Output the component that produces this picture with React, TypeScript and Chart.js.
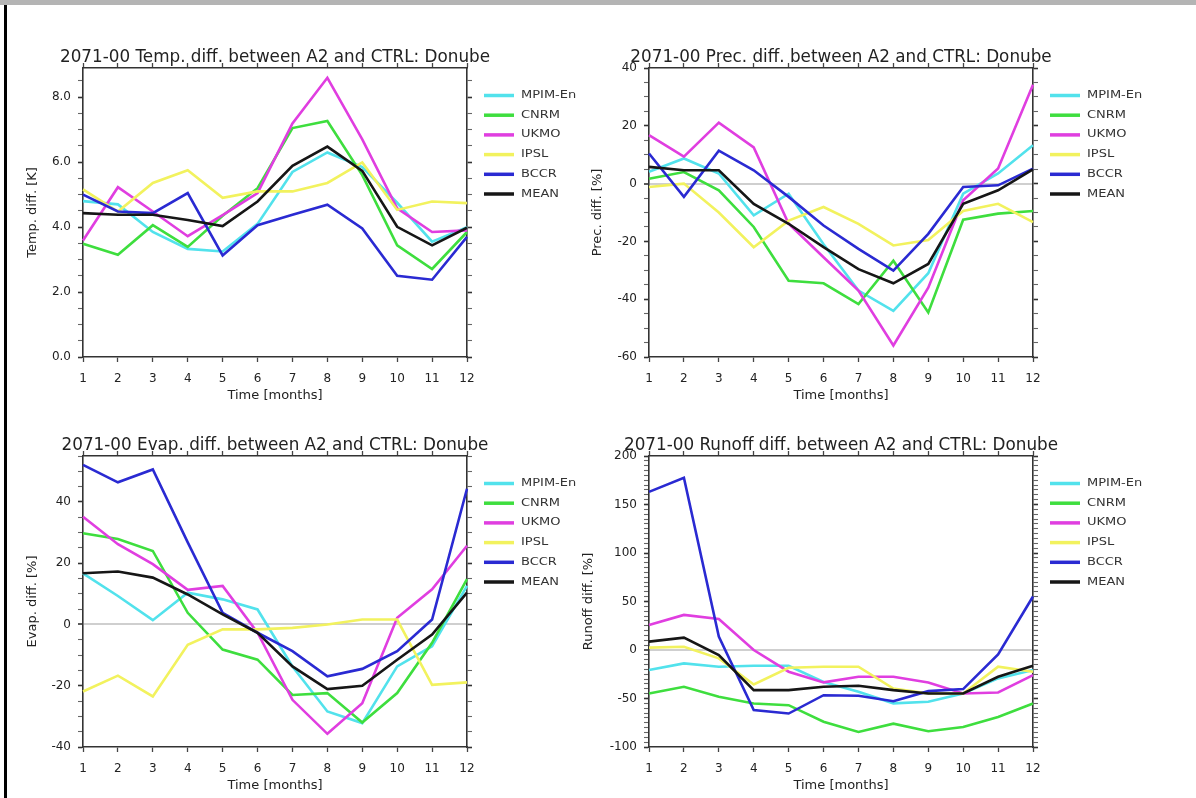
import { useEffect, useRef } from "react";
import { Chart, registerables } from "chart.js";

Chart.register(...registerables);

// ---------------- DATA ----------------
const months = ["1", "2", "3", "4", "5", "6", "7", "8", "9", "10", "11", "12"];
const seriesNames = ["MPIM-En", "CNRM", "UKMO", "IPSL", "BCCR", "MEAN"];
const seriesColors = ["#52e2ec", "#3ede3e", "#e03ee0", "#f2f25e", "#2a2ad2", "#161616"];

// Temperature difference [K]
const tempMpim = [4.8, 4.7, 3.85, 3.33, 3.25, 4.1, 5.7, 6.3, 5.85, 4.75, 3.55, 4.0];
const tempCnrm = [3.49, 3.15, 4.06, 3.39, 4.35, 5.2, 7.05, 7.27, 5.6, 3.44, 2.71, 3.85];
const tempUkmo = [3.59, 5.23, 4.48, 3.72, 4.37, 5.05, 7.19, 8.6, 6.7, 4.58, 3.85, 3.9];
const tempIpsl = [5.16, 4.48, 5.36, 5.75, 4.9, 5.1, 5.1, 5.36, 5.99, 4.53, 4.79, 4.74];
const tempBccr = [5.0, 4.48, 4.43, 5.05, 3.13, 4.06, 4.38, 4.69, 3.96, 2.5, 2.38, 3.7];
const tempMean = [4.43, 4.38, 4.38, 4.22, 4.03, 4.79, 5.89, 6.48, 5.73, 4.01, 3.44, 3.98];
const tempMajorTicks = [0, 2, 4, 6, 8];

// Precipitation difference [%]
const precMpim = [4.1, 8.7, 3.5, -11, -3.5, -21, -37, -44, -31, -3.5, 3.5, 13.3];
const precCnrm = [1.7, 4, -2.3, -15, -33.6, -34.5, -41.7, -26.7, -44.6, -12.5, -10.4, -9.5];
const precUkmo = [16.8, 9.3, 21.1, 12.5, -13.9, -25.5, -37, -56, -36, -5.8, 5.2, 34.2];
const precIpsl = [-1.2, 0, -10, -22, -12.8, -8.1, -13.9, -21.4, -19.5, -9.5, -7, -13.3];
const precBccr = [10.4, -4.6, 11.4, 4.6, -4.6, -14.5, -22.6, -30.1, -17.4, -1.2, -0.6, 5.2];
const precMean = [5.8, 4.6, 4.6, -7, -13.9, -22, -29.6, -34.5, -27.8, -7, -2.3, 4.9];
const precMajorTicks = [-60, -40, -20, 0, 20, 40];

// Evaporation difference [%]
const evapMpim = [16.7, 9.3, 1.4, 10.4, 8.2, 4.9, -13.7, -28.4, -32.2, -13.7, -7.1, 12.6];
const evapCnrm = [29.8, 27.9, 24, 3.8, -8.2, -11.5, -23, -22.4, -32, -22.4, -6, 14.8];
const evapUkmo = [35.2, 26.2, 19.7, 11.3, 12.6, -2.7, -24.6, -35.7, -25.7, 2.2, 11.5, 25.7];
const evapIpsl = [-21.9, -16.7, -23.5, -6.6, -1.6, -1.6, -1.1, 0, 1.6, 1.6, -19.7, -18.9];
const evapBccr = [52.1, 46.4, 50.6, 26.8, 3.8, -2.7, -8.7, -16.9, -14.5, -8.7, 1.6, 44.3];
const evapMean = [16.7, 17.3, 15.3, 9.8, 3.3, -2.7, -13.7, -21.1, -20, -11.5, -3.3, 10.4];
const evapMajorTicks = [-40, -20, 0, 20, 40];

// Runoff difference [%]
const runoffMpim = [-20.7, -13.8, -17.2, -16.2, -16.2, -33, -43, -55, -53.4, -44.8, -29.3, -20.7];
const runoffCnrm = [-44.8, -37.9, -48.3, -55.2, -56.9, -74, -84.5, -75.9, -83.8, -79.3, -69, -55.2];
const runoffUkmo = [25.9, 36.2, 32, 0, -22.4, -33.4, -27.6, -27.6, -33.4, -44.8, -43.8, -25.9];
const runoffIpsl = [2.4, 3.4, -8.6, -35.5, -18.3, -17.2, -17.2, -39.7, -44.8, -44.8, -17.2, -22.4];
const runoffBccr = [163, 177.6, 13.8, -62, -65.5, -46.6, -47.2, -52.8, -42.4, -40.3, -4.5, 55.2];
const runoffMean = [8.6, 12.8, -5.2, -41.4, -41.4, -37.9, -36.9, -41.4, -44.8, -44.8, -27.6, -16.2];
const runoffMajorTicks = [-100, -50, 0, 50, 100, 150, 200];

// ---------------- LAYOUT / STYLE ----------------
const FONT = '"DejaVu Sans", "Liberation Sans", sans-serif';
const TEXT = "#222";
const FRAME = "#333";
const PAD_L = 120;
const PAD_R = 120;
const TOP_H = 24;
const BOT_H = 46;
const PLOT_W = 384;
const TITLE_SIZE = 16.8;

type PanelCfg = {
  title: string;
  yTitle: string;
  series: number[][];
  min: number;
  max: number;
  minorStep: number;
  majorTicks: number[];
  decimals: number;
  zeroLine: boolean;
  left: number;
  top: number;
  height: number;
  yTitleGap: number;
};

const panels: PanelCfg[] = [
  {
    title: "2071-00 Temp. diff. between A2 and CTRL: Donube",
    yTitle: "Temp. diff. [K]",
    series: [tempMpim, tempCnrm, tempUkmo, tempIpsl, tempBccr, tempMean],
    min: 0, max: 8.9, minorStep: 0.5, majorTicks: tempMajorTicks, decimals: 1,
    zeroLine: false, left: 83, top: 68, height: 289, yTitleGap: 50,
  },
  {
    title: "2071-00 Prec. diff. between A2 and CTRL: Donube",
    yTitle: "Prec. diff. [%]",
    series: [precMpim, precCnrm, precUkmo, precIpsl, precBccr, precMean],
    min: -60, max: 40, minorStep: 5, majorTicks: precMajorTicks, decimals: 0,
    zeroLine: true, left: 649, top: 68, height: 289, yTitleGap: 51,
  },
  {
    title: "2071-00 Evap. diff. between A2 and CTRL: Donube",
    yTitle: "Evap. diff. [%]",
    series: [evapMpim, evapCnrm, evapUkmo, evapIpsl, evapBccr, evapMean],
    min: -40, max: 55, minorStep: 5, majorTicks: evapMajorTicks, decimals: 0,
    zeroLine: true, left: 83, top: 456, height: 291, yTitleGap: 50,
  },
  {
    title: "2071-00 Runoff diff. between A2 and CTRL: Donube",
    yTitle: "Runoff diff. [%]",
    series: [runoffMpim, runoffCnrm, runoffUkmo, runoffIpsl, runoffBccr, runoffMean],
    min: -100, max: 200, minorStep: 5, majorTicks: runoffMajorTicks, decimals: 0,
    zeroLine: true, left: 649, top: 456, height: 291, yTitleGap: 60,
  },
];

const sideLegend = {
  id: "sideLegend",
  afterDraw(chart: any) {
    const { ctx, chartArea } = chart;
    ctx.save();
    chart.data.datasets.forEach((ds: any, i: number) => {
      const y = chartArea.top + 27.5 + i * 19.7;
      ctx.strokeStyle = ds.borderColor;
      ctx.lineWidth = 3.5;
      ctx.lineCap = "butt";
      ctx.beginPath();
      ctx.moveTo(chartArea.right + 17, y);
      ctx.lineTo(chartArea.right + 47, y);
      ctx.stroke();
      ctx.save();
      ctx.translate(chartArea.right + 54, y);
      ctx.scale(1.3, 1);
      ctx.fillStyle = "#333";
      ctx.font = `10px ${FONT}`;
      ctx.textBaseline = "middle";
      ctx.textAlign = "left";
      ctx.fillText(ds.label, 0, 0);
      ctx.restore();
    });
    ctx.restore();
  },
};

function isMajor(v: number, majors: number[]) {
  return majors.some((m) => Math.abs(m - v) < 1e-6);
}

function PanelChart({ cfg }: { cfg: PanelCfg }) {
  const ref = useRef<HTMLCanvasElement>(null);
  const W = PAD_L + PLOT_W + PAD_R;
  const H = TOP_H + cfg.height + BOT_H;

  useEffect(() => {
    const canvas = ref.current;
    if (!canvas) return;
    const tickFont = { family: FONT, size: 12 };
    const axisTitleFont = { family: FONT, size: 13, lineHeight: 1.2 };
    const titleLH = TITLE_SIZE * 1.2;
    const chart = new Chart(canvas, {
      type: "line",
      data: {
        labels: months,
        datasets: cfg.series.map((values, i) => ({
          label: seriesNames[i],
          data: values,
          borderColor: seriesColors[i],
          backgroundColor: seriesColors[i],
          borderWidth: 2.6,
          pointRadius: 0,
          pointHoverRadius: 0,
          tension: 0,
          fill: false,
          order: seriesNames.length - i,
          xAxisID: "x",
          yAxisID: "y",
        })),
      },
      options: {
        responsive: false,
        animation: false,
        devicePixelRatio: 1,
        events: [],
        layout: { padding: 0 },
        plugins: {
          legend: { display: false },
          tooltip: { enabled: false },
          title: {
            display: true,
            text: cfg.title,
            color: TEXT,
            font: { family: FONT, size: TITLE_SIZE, lineHeight: 1.2, weight: "normal" },
            padding: { top: TOP_H - titleLH - 0.1, bottom: 0.1 },
          },
        },
        scales: {
          x: {
            type: "category",
            position: "bottom",
            offset: false,
            grid: { display: true, drawOnChartArea: false, drawTicks: true, tickLength: 5, tickColor: "#444", tickWidth: 1.3, offset: false },
            border: { display: true, color: FRAME, width: 1.6 },
            ticks: { color: TEXT, font: tickFont, padding: 9.8, autoSkip: false, maxRotation: 0 },
            title: { display: true, text: "Time [months]", color: TEXT, font: axisTitleFont, padding: { top: 0, bottom: 0 } },
            afterFit: (s: any) => { s.height = BOT_H; },
          },
          x2: {
            type: "category",
            position: "top",
            offset: false,
            grid: { display: true, drawOnChartArea: false, drawTicks: true, tickLength: 5, tickColor: "#444", tickWidth: 1.3, offset: false },
            border: { display: true, color: FRAME, width: 1.6 },
            ticks: { display: false, autoSkip: false },
            afterFit: (s: any) => { s.height = 0; },
          },
          y: {
            type: "linear",
            position: "left",
            min: cfg.min,
            max: cfg.max,
            grid: {
              display: true,
              drawOnChartArea: true,
              drawTicks: true,
              tickLength: 5,
              color: (c: any) => (cfg.zeroLine && c.tick && Math.abs(c.tick.value) < 1e-9 ? "#cfcfcf" : "rgba(0,0,0,0)"),
              lineWidth: (c: any) => (cfg.zeroLine && c.tick && Math.abs(c.tick.value) < 1e-9 ? 2 : 1),
              tickColor: (c: any) => (c.tick && isMajor(c.tick.value, cfg.majorTicks) ? "#333" : "#666"),
              tickWidth: (c: any) => (c.tick && isMajor(c.tick.value, cfg.majorTicks) ? 1.6 : 1.1),
            },
            border: { display: true, color: FRAME, width: 1.6 },
            ticks: {
              stepSize: cfg.minorStep,
              includeBounds: false,
              autoSkip: false,
              color: TEXT,
              font: tickFont,
              padding: 7,
              callback: (v: any) => (isMajor(Number(v), cfg.majorTicks) ? Number(v).toFixed(cfg.decimals) : ""),
            },
            title: {
              display: true,
              text: cfg.yTitle,
              color: TEXT,
              font: axisTitleFont,
              padding: { top: PAD_L - cfg.yTitleGap - 7.8, bottom: 0 },
            },
            afterFit: (s: any) => { s.width = PAD_L; },
          },
          y2: {
            type: "linear",
            position: "right",
            min: cfg.min,
            max: cfg.max,
            grid: {
              display: true,
              drawOnChartArea: false,
              drawTicks: true,
              tickLength: 5,
              tickColor: (c: any) => (c.tick && isMajor(c.tick.value, cfg.majorTicks) ? "#333" : "#666"),
              tickWidth: (c: any) => (c.tick && isMajor(c.tick.value, cfg.majorTicks) ? 1.6 : 1.1),
            },
            border: { display: true, color: FRAME, width: 1.6 },
            ticks: { display: false, stepSize: cfg.minorStep, includeBounds: false, autoSkip: false },
            afterFit: (s: any) => { s.width = PAD_R; },
          },
        },
      } as any,
      plugins: [sideLegend],
    });
    return () => chart.destroy();
  }, [cfg]);

  return (
    <canvas
      ref={ref}
      width={W}
      height={H}
      style={{ position: "absolute", left: cfg.left - PAD_L, top: cfg.top - TOP_H, width: W, height: H }}
    />
  );
}

export default function App() {
  return (
    <div
      style={{
        position: "absolute",
        left: 0,
        top: 0,
        width: 1196,
        height: 798,
        background: "#ffffff",
        overflow: "hidden",
      }}
    >
      <div style={{ position: "absolute", left: 0, top: 0, width: 1196, height: 5, background: "#b4b4b4" }} />
      <div style={{ position: "absolute", left: 4, top: 5, width: 2.5, height: 793, background: "#000" }} />
      {panels.map((p) => (
        <PanelChart key={p.title} cfg={p} />
      ))}
    </div>
  );
}
